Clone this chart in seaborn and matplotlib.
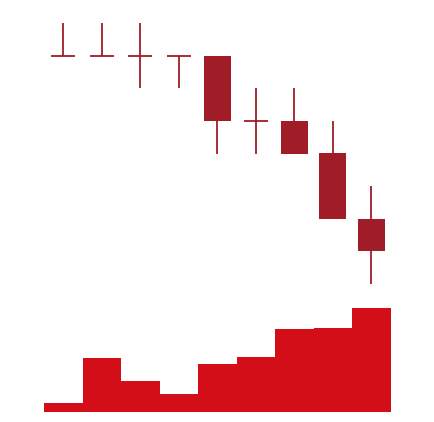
import matplotlib
matplotlib.use("Agg")
import matplotlib.pyplot as plt
import seaborn as sns
import pandas as pd

# Data
days = list(range(9))
opens = [9, 9, 9, 9, 9, 7, 7, 6, 4]
highs = [10, 10, 10, 9, 9, 8, 8, 7, 5]
lows = [9, 9, 8, 8, 6, 6, 6, 4, 2]
closes = [9, 9, 9, 9, 7, 7, 6, 4, 3]
volumes = [8.4, 53.7, 31, 17.4, 47.7, 54.7, 82.7, 84, 103.7]

candle_color = "#a01c27"
vol_color = "#d40e18"

sns.set_theme(style="white")
W, H = 434, 422
fig = plt.figure(figsize=(W / 100, H / 100), dpi=100)

left = 44 / W
width = 346.5 / W
# price axes: y=10 at pixel 23, y=2 at pixel 284
ax_p = fig.add_axes([left, 1 - 284 / H, width, (284 - 23) / H])
# volume axes: bottom pixel 411.7, 110 units tall
ax_v = fig.add_axes([left, 1 - 411.7 / H, width, 110 / H])

df = pd.DataFrame({"day": days, "volume": volumes})
sns.barplot(data=df, x="day", y="volume", ax=ax_v, color=vol_color,
            width=1.0, saturation=1, linewidth=0, errorbar=None)
ax_v.set_xlim(-0.5, 8.5)
ax_v.set_ylim(0, 110)

body_w = 0.7
for d, o, h, l, c in zip(days, opens, highs, lows, closes):
    ax_p.vlines(d, l, h, color=candle_color, lw=1.3)
    if o == c:
        ax_p.hlines(o, d - 0.31, d + 0.31, color=candle_color, lw=1.3)
    else:
        ax_p.bar(d, abs(o - c), bottom=min(o, c), width=body_w,
                 color=candle_color, linewidth=0)
ax_p.set_xlim(-0.5, 8.5)
ax_p.set_ylim(2, 10)

for ax in (ax_p, ax_v):
    ax.set_axis_off()

fig.savefig("out.png", dpi=100)
